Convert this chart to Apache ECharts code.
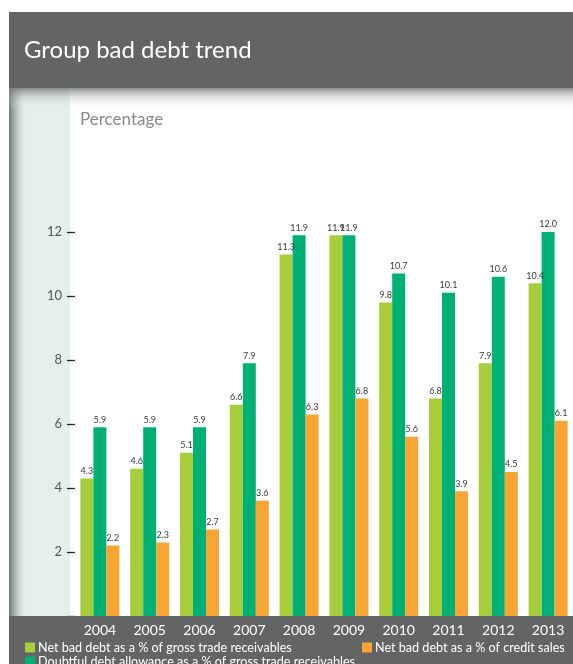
<!DOCTYPE html>
<html>
<head>
<meta charset="utf-8">
<script src="https://cdn.jsdelivr.net/npm/echarts@6/dist/echarts.min.js"></script>
<style>
  html, body { margin: 0; padding: 0; background: #ffffff; }
  #chart { width: 573px; height: 664px; }
</style>
</head>
<body>
<div id="chart"></div>
<script>
// Years on the category axis
const years = ['2004', '2005', '2006', '2007', '2008', '2009', '2010', '2011', '2012', '2013'];

// Series values (percent)
const netBadDebtReceivables = [4.3, 4.6, 5.1, 6.6, 11.3, 11.9, 9.8, 6.8, 7.9, 10.4];
const doubtfulAllowance = [5.9, 5.9, 5.9, 7.9, 11.9, 11.9, 10.7, 10.1, 10.6, 12.0];
const netBadDebtCreditSales = [2.2, 2.3, 2.7, 3.6, 6.3, 6.8, 5.6, 3.9, 4.5, 6.1];

// Y axis ticks
const yTicks = [2, 4, 6, 8, 10, 12];

const names = [
  'Net bad debt as a % of gross trade receivables',
  'Doubtful debt allowance as a % of gross trade receivables',
  'Net bad debt as a % of credit sales'
];
const colors = ['#a8cd3a', '#00b074', '#f8a534'];
const FONT = 'Lato, "Open Sans", sans-serif';

const chart = echarts.init(document.getElementById('chart'), null, { renderer: 'canvas' });

function barSeries(name, data, color) {
  return {
    name: name,
    type: 'bar',
    data: data,
    barWidth: 13,
    barGap: '0%',
    itemStyle: { color: color },
    label: {
      show: true,
      position: 'top',
      distance: 3,
      fontSize: 9,
      color: '#3a3a3a',
      fontFamily: FONT,
      formatter: p => p.value.toFixed(1)
    },
    z: 2
  };
}

const legendCommon = {
  itemWidth: 10,
  itemHeight: 10,
  itemGap: 4,
  icon: 'rect',
  textStyle: { color: '#ffffff', fontSize: 12.6, fontFamily: FONT, padding: [0, 0, 0, -2] },
  padding: 0,
  z: 20
};

chart.setOption({
  animation: false,
  backgroundColor: '#ffffff',
  graphic: [
    // header band
    { type: 'rect', shape: { x: 9, y: 12, width: 564, height: 76 }, style: { fill: '#636466' }, z: 0 },
    // left panel
    { type: 'rect', shape: { x: 9, y: 88, width: 61, height: 530 }, style: { fill: '#e3f1ea' }, z: 0 },
    // left panel edge shadow
    {
      type: 'rect', shape: { x: 9, y: 88, width: 18, height: 530 },
      style: {
        fill: new echarts.graphic.LinearGradient(0, 0, 1, 0, [
          { offset: 0, color: 'rgba(110,118,114,1)' },
          { offset: 0.35, color: 'rgba(150,160,155,0.7)' },
          { offset: 1, color: 'rgba(227,241,234,0)' }
        ])
      }, z: 1
    },
    // header shadow
    {
      type: 'rect', shape: { x: 9, y: 88, width: 564, height: 22 },
      style: {
        fill: new echarts.graphic.LinearGradient(0, 0, 0, 1, [
          { offset: 0, color: 'rgba(120,122,124,0.85)' },
          { offset: 0.4, color: 'rgba(160,162,164,0.35)' },
          { offset: 1, color: 'rgba(255,255,255,0)' }
        ])
      }, z: 1
    },
    // title
    {
      type: 'text', left: 24, top: 38,
      style: { text: 'Group bad debt trend', fill: '#ffffff', fontSize: 24, fontFamily: FONT }, z: 5
    },
    // unit caption
    {
      type: 'text', left: 80, top: 111,
      style: { text: 'Percentage', fill: '#8a8a8a', fontSize: 17, fontFamily: FONT }, z: 5
    },
    // bottom band
    { type: 'rect', shape: { x: 9, y: 616, width: 564, height: 48 }, style: { fill: '#636466' }, z: 10 }
  ],
  legend: [
    Object.assign({ data: [names[0]], left: 25, top: 641 }, legendCommon),
    Object.assign({ data: [names[2]], left: 362, top: 641 }, legendCommon),
    Object.assign({ data: [names[1]], left: 25, top: 655 }, legendCommon)
  ],
  grid: { left: 75, right: -2, top: 232, bottom: 48, containLabel: false },
  xAxis: {
    type: 'category',
    data: years,
    axisLine: { show: false },
    axisTick: { show: false },
    axisLabel: { color: '#ffffff', fontSize: 14, fontFamily: FONT, margin: 7 },
    z: 20
  },
  yAxis: {
    type: 'value',
    min: 0,
    max: 12,
    interval: 2,
    splitLine: { show: false },
    axisLine: { show: false },
    axisTick: { show: true, length: 8, lineStyle: { color: '#222', width: 1.3 } },
    axisLabel: {
      color: '#555',
      fontSize: 13,
      fontFamily: FONT,
      margin: 13,
      formatter: v => (yTicks.indexOf(v) >= 0 ? String(v) : '')
    }
  },
  series: [
    barSeries(names[0], netBadDebtReceivables, colors[0]),
    barSeries(names[1], doubtfulAllowance, colors[1]),
    barSeries(names[2], netBadDebtCreditSales, colors[2])
  ]
});
</script>
</body>
</html>
